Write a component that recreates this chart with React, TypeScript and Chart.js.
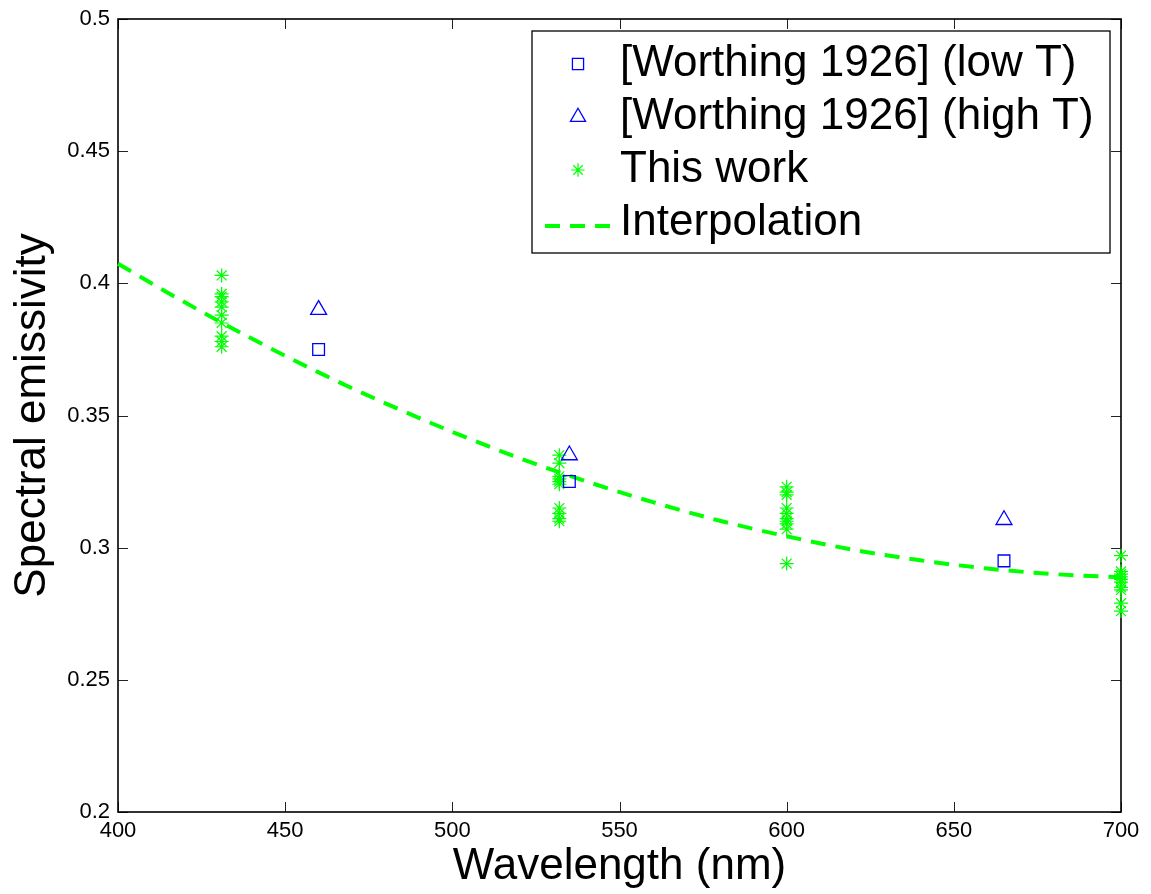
import React, { useEffect, useRef } from 'react';
import { Chart, registerables } from 'chart.js';

Chart.register(...registerables);

// ---- data ----
const xTicks = [400, 450, 500, 550, 600, 650, 700];
const xTickLabels = ['400', '450', '500', '550', '600', '650', '700'];
const yTicks = [0.2, 0.25, 0.3, 0.35, 0.4, 0.45, 0.5];
const yTickLabels = ['0.2', '0.25', '0.3', '0.35', '0.4', '0.45', '0.5'];

const worthingWavelengths = [460, 535, 665];
const worthingLowT = [0.375, 0.325, 0.295];
const worthingHighT = [0.39, 0.335, 0.3105];

const thisWork431 = [0.403, 0.396, 0.395, 0.393, 0.391, 0.388, 0.385, 0.38, 0.378, 0.376];
const thisWork532 = [0.335, 0.332, 0.327, 0.326, 0.325, 0.324, 0.315, 0.313, 0.311, 0.31];
const thisWork600 = [0.323, 0.321, 0.32, 0.315, 0.313, 0.311, 0.31, 0.309, 0.307, 0.294];
const thisWork700 = [0.297, 0.291, 0.29, 0.289, 0.288, 0.287, 0.285, 0.284, 0.279, 0.276];

const interpWavelengths = [400, 420, 440, 460, 480, 500, 520, 540, 560, 580, 600, 620, 640, 660, 680, 700];
const interpValues = [0.4074, 0.3928, 0.3791, 0.3663, 0.3546, 0.3438, 0.3339, 0.3251, 0.3172, 0.3102, 0.3043, 0.2992, 0.2952, 0.2921, 0.29, 0.2888];

const legendLabels = ['[Worthing 1926] (low T)', '[Worthing 1926] (high T)', 'This work', 'Interpolation'];

const FONT = '"Liberation Sans", Arial, Helvetica, sans-serif';
const BLUE = '#0000ff';
const GREEN = '#00ff00';

function pts(xs: number[], ys: number[]) {
  return xs.map((x, i) => ({ x, y: ys[i] }));
}
function cluster(x: number, ys: number[]) {
  return ys.map((y) => ({ x, y }));
}

const framePlugin = {
  id: 'matlabFrame',
  beforeDatasetsDraw(chart: any) {
    const { ctx, chartArea: a, scales } = chart;
    const tl = 10;
    ctx.save();
    ctx.strokeStyle = '#222';
    ctx.lineWidth = 1;
    xTicks.forEach((v) => {
      const px = Math.round(scales.x.getPixelForValue(v)) + 0.5;
      ctx.beginPath();
      ctx.moveTo(px, a.bottom);
      ctx.lineTo(px, a.bottom - tl);
      ctx.moveTo(px, a.top);
      ctx.lineTo(px, a.top + tl);
      ctx.stroke();
    });
    yTicks.forEach((v) => {
      const py = Math.round(scales.y.getPixelForValue(v)) + 0.5;
      ctx.beginPath();
      ctx.moveTo(a.left, py);
      ctx.lineTo(a.left + tl, py);
      ctx.moveTo(a.right, py);
      ctx.lineTo(a.right - tl, py);
      ctx.stroke();
    });
    ctx.strokeStyle = '#000';
    ctx.lineWidth = 1.6;
    ctx.strokeRect(a.left, a.top, a.right - a.left, a.bottom - a.top);
    ctx.restore();
  },
};

function drawMarker(ctx: CanvasRenderingContext2D, style: string, x: number, y: number, r: number) {
  ctx.beginPath();
  if (style === 'rect') {
    const s = r / Math.SQRT2;
    ctx.rect(x - s, y - s, 2 * s, 2 * s);
  } else if (style === 'triangle') {
    let rad = 0;
    ctx.moveTo(x + Math.sin(rad) * r, y - Math.cos(rad) * r);
    rad += (2 * Math.PI) / 3;
    ctx.lineTo(x + Math.sin(rad) * r, y - Math.cos(rad) * r);
    rad += (2 * Math.PI) / 3;
    ctx.lineTo(x + Math.sin(rad) * r, y - Math.cos(rad) * r);
    ctx.closePath();
  } else if (style === 'star') {
    for (let k = 0; k < 4; k++) {
      const ang = (k * Math.PI) / 4;
      ctx.moveTo(x - Math.cos(ang) * r, y - Math.sin(ang) * r);
      ctx.lineTo(x + Math.cos(ang) * r, y + Math.sin(ang) * r);
    }
  }
  ctx.stroke();
}

const legendPlugin = {
  id: 'boxLegend',
  afterDraw(chart: any) {
    const { ctx, chartArea: a } = chart;
    const w = 578;
    const h = 222;
    const left = a.right - 11 - w;
    const top = a.top + 12;
    ctx.save();
    ctx.fillStyle = '#fff';
    ctx.fillRect(left, top, w, h);
    ctx.strokeStyle = '#000';
    ctx.lineWidth = 1.3;
    ctx.strokeRect(left, top, w, h);
    const rows = [33, 86, 139, 192];
    chart.data.datasets.forEach((ds: any, i: number) => {
      const cy = top + rows[i];
      const mx = left + 46;
      ctx.strokeStyle = ds.borderColor;
      if (ds.showLine) {
        ctx.lineWidth = ds.borderWidth;
        ctx.setLineDash(ds.borderDash);
        ctx.beginPath();
        ctx.moveTo(left + 13, cy + 3);
        ctx.lineTo(left + 81, cy + 3);
        ctx.stroke();
        ctx.setLineDash([]);
      } else {
        ctx.lineWidth = ds.borderWidth;
        drawMarker(ctx, ds.pointStyle, mx, cy, ds.pointRadius * 0.95);
      }
      ctx.fillStyle = '#000';
      ctx.font = `44px ${FONT}`;
      ctx.textBaseline = 'middle';
      ctx.textAlign = 'left';
      ctx.fillText(legendLabels[i], left + 88, cy);
    });
    ctx.restore();
  },
};

export default function App() {
  const ref = useRef<HTMLCanvasElement | null>(null);
  useEffect(() => {
    document.body.style.margin = '0';
    if (!ref.current) return;
    Chart.defaults.font.family = FONT;
    const chart = new Chart(ref.current, {
      type: 'scatter',
      data: {
        datasets: [
          {
            label: legendLabels[0],
            data: pts(worthingWavelengths, worthingLowT),
            pointStyle: 'rect',
            pointRadius: 8.3,
            borderColor: BLUE,
            backgroundColor: 'rgba(0,0,0,0)',
            borderWidth: 1.3,
            clip: false,
          } as any,
          {
            label: legendLabels[1],
            data: pts(worthingWavelengths, worthingHighT),
            pointStyle: 'triangle',
            pointRadius: 9.2,
            borderColor: BLUE,
            backgroundColor: 'rgba(0,0,0,0)',
            borderWidth: 1.3,
            clip: false,
          },
          {
            label: legendLabels[2],
            data: [
              ...cluster(431, thisWork431),
              ...cluster(532, thisWork532),
              ...cluster(600, thisWork600),
              ...cluster(700, thisWork700),
            ],
            pointStyle: 'star',
            pointRadius: 7,
            borderColor: GREEN,
            backgroundColor: 'rgba(0,0,0,0)',
            borderWidth: 1.2,
            clip: false,
          },
          {
            label: legendLabels[3],
            data: pts(interpWavelengths, interpValues),
            showLine: true,
            pointRadius: 0,
            borderColor: GREEN,
            borderWidth: 4,
            borderDash: [15, 10],
            tension: 0.4,
            cubicInterpolationMode: 'monotone',
            clip: false,
          },
        ],
      },
      options: {
        animation: false,
        responsive: false,
        devicePixelRatio: 1,
        layout: { padding: { top: 18, right: 30, left: 0, bottom: 0 } },
        plugins: { legend: { display: false }, tooltip: { enabled: false } },
        scales: {
          x: {
            type: 'linear',
            min: 400,
            max: 700,
            afterBuildTicks: (s: any) => {
              s.ticks = xTicks.map((v) => ({ value: v }));
            },
            afterFit: (s: any) => {
              s.height = 82;
            },
            ticks: {
              color: '#000',
              font: { size: 22, lineHeight: 1 },
              padding: 8,
              maxRotation: 0,
              callback: (v: any) => {
                const i = xTicks.findIndex((t) => Math.abs(t - v) < 1e-6);
                return i >= 0 ? xTickLabels[i] : '';
              },
            },
            grid: { display: false, drawTicks: false },
            border: { display: false },
            title: {
              display: true,
              text: 'Wavelength (nm)',
              color: '#000',
              font: { size: 44, lineHeight: 1 },
              padding: { top: 0, bottom: 5 },
            },
          },
          y: {
            type: 'linear',
            min: 0.2,
            max: 0.5,
            afterBuildTicks: (s: any) => {
              s.ticks = yTicks.map((v) => ({ value: v }));
            },
            afterFit: (s: any) => {
              s.width = 118;
            },
            ticks: {
              color: '#000',
              font: { size: 22, lineHeight: 1 },
              padding: 8,
              callback: (v: any) => {
                const i = yTicks.findIndex((t) => Math.abs(t - v) < 1e-6);
                return i >= 0 ? yTickLabels[i] : '';
              },
            },
            grid: { display: false, drawTicks: false },
            border: { display: false },
            title: {
              display: true,
              text: 'Spectral emissivity',
              color: '#000',
              font: { size: 44, lineHeight: 1 },
              padding: { top: 11, bottom: 0 },
            },
          },
        },
      } as any,
      plugins: [framePlugin, legendPlugin],
    });
    return () => chart.destroy();
  }, []);
  return (
    <div style={{ width: 1151, height: 894, background: '#fff' }}>
      <canvas ref={ref} width={1151} height={894} style={{ display: 'block' }} />
    </div>
  );
}
